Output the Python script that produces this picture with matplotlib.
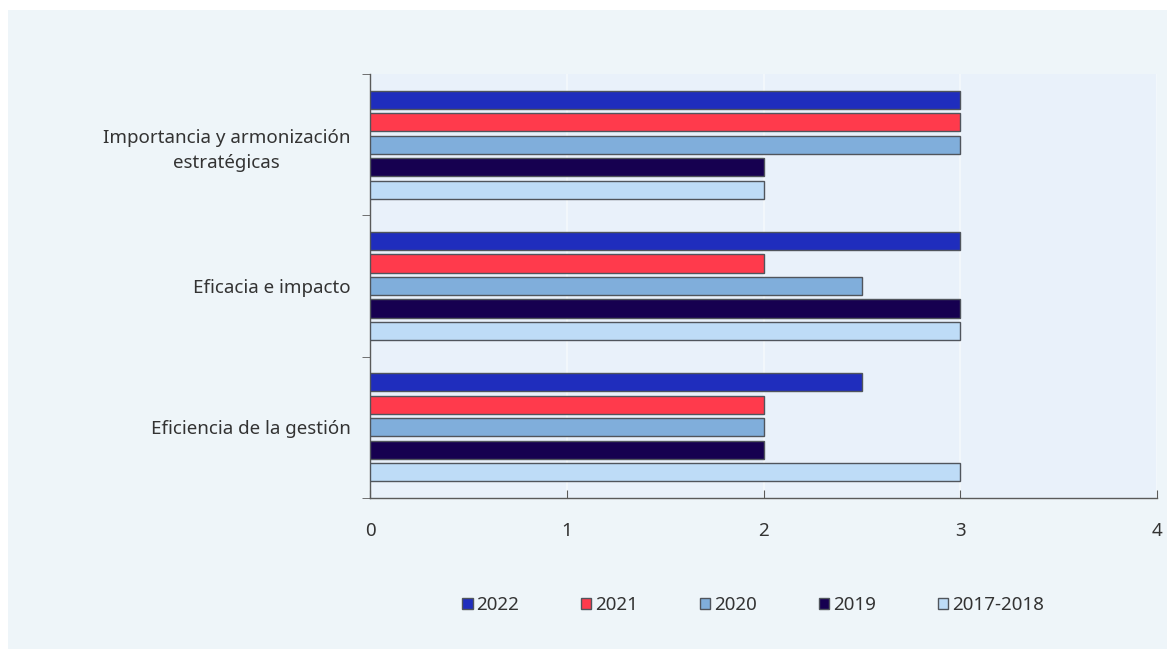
import matplotlib

matplotlib.use("Agg")
import matplotlib.pyplot as plt
import numpy as np
from matplotlib.patches import Rectangle

plt.rcParams["font.family"] = ["Noto Sans", "DejaVu Sans"]

CATEGORIES = ["Importancia y armonización\nestratégicas", "Eficacia e impacto",
              "Eficiencia de la gestión"]
SERIES = ["2022", "2021", "2020", "2019", "2017-2018"]
V_2022 = [3, 3, 2.5]
V_2021 = [3, 2, 2]
V_2020 = [3, 2.5, 2]
V_2019 = [2, 3, 2]
V_2017_2018 = [2, 3, 3]
VALUES = [V_2022, V_2021, V_2020, V_2019, V_2017_2018]
COLORS = ["#1f2dbd", "#ff3a4c", "#80aedb", "#160050", "#bedcf7"]
XTICKS = [0, 1, 2, 3, 4]

TEXT = "#333333"
AXIS = "#5a5a5a"
FS = 13.5

fig = plt.figure(figsize=(11.67, 6.49), dpi=100, facecolor="white")
fig.patches.append(Rectangle((8 / 1167, 0), 1 - 8 / 1167, 1 - 10 / 649,
                             transform=fig.transFigure, facecolor="#eef5f9",
                             edgecolor="none", zorder=-10))
ax = fig.add_axes([370 / 1167, 1 - 498 / 649, 787 / 1167, 424 / 649])
ax.set_facecolor("#e9f1fa")

y = np.arange(len(CATEGORIES))
pitch = 0.159
h = 0.128
for i, (name, vals, col) in enumerate(zip(SERIES, VALUES, COLORS)):
    ax.barh(y + (i - 2) * pitch, vals, height=h, color=col, edgecolor="#50555c",
            linewidth=1.0, label=name, zorder=3)

ax.set_xlim(0, 4)
ax.set_ylim(len(CATEGORIES) - 0.5, -0.5)
ax.set_xticks(XTICKS)
ax.grid(True, axis="x", color="#f5f9fc", lw=1.2, zorder=1)
ax.set_yticks(y, CATEGORIES)
ax.set_yticks(np.arange(len(CATEGORIES) + 1) - 0.5, minor=True)
ax.tick_params(axis="y", which="major", length=0, pad=14, labelsize=FS,
               labelcolor=TEXT)
ax.tick_params(axis="y", which="minor", length=6, direction="out", color=AXIS)
ax.tick_params(axis="x", length=6, direction="in", color=AXIS, pad=17,
               labelsize=FS, labelcolor=TEXT)
for lab in ax.get_yticklabels():
    lab.set_horizontalalignment("right")
    lab.set_multialignment("center")
    lab.set_linespacing(1.55)
for s in ("top", "right"):
    ax.spines[s].set_visible(False)
for s in ("left", "bottom"):
    ax.spines[s].set_color(AXIS)
    ax.spines[s].set_linewidth(1.0)

handles, labels = ax.get_legend_handles_labels()
fig.legend(handles, labels, loc="center", bbox_to_anchor=(753 / 1167, 1 - 605 / 649),
           ncol=5, frameon=False, fontsize=FS, handlelength=0.55, handleheight=0.55,
           handletextpad=0.2, columnspacing=3.3, labelcolor=TEXT)

fig.savefig("out.png", dpi=100, facecolor=fig.get_facecolor())
